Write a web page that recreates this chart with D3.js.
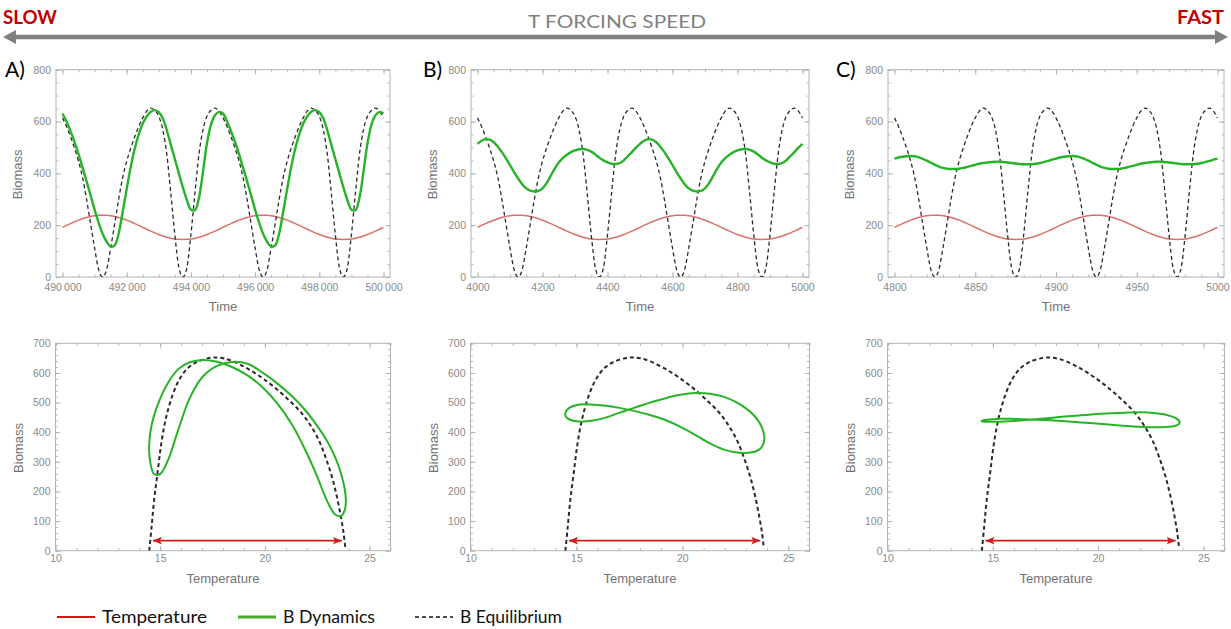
<!DOCTYPE html>
<html>
<head>
<meta charset="utf-8">
<script src="https://cdn.jsdelivr.net/npm/d3@7"></script>
<style>
  html, body { margin: 0; padding: 0; background: #ffffff; }
  svg { display: block; }
</style>
</head>
<body>
<svg id="chart" width="1231" height="629"></svg>
<script>
// ---------------------------------------------------------------
// Data: three runs of the same periodic temperature forcing, each
// shown over a window of two forcing cycles (81 evenly spaced samples).
// ---------------------------------------------------------------

// Time windows of the three runs (slow, intermediate, fast forcing)
const windowA = [490000, 500000];
const windowB = [4000, 5000];
const windowC = [4800, 5000];

// Temperature (°C) at each sample; same cycle shape in every window
const temperature = [
  19.17, 19.91, 20.62, 21.30, 21.93, 22.49, 22.97, 23.36, 23.64, 23.81,
  23.87, 23.81, 23.64, 23.36, 22.97, 22.49, 21.93, 21.30, 20.62, 19.91,
  19.17, 18.43, 17.72, 17.04, 16.41, 15.85, 15.37, 14.98, 14.70, 14.53,
  14.47, 14.53, 14.70, 14.98, 15.37, 15.85, 16.41, 17.04, 17.72, 18.43,
  19.17, 19.91, 20.62, 21.30, 21.93, 22.49, 22.97, 23.36, 23.64, 23.81,
  23.87, 23.81, 23.64, 23.36, 22.97, 22.49, 21.93, 21.30, 20.62, 19.91,
  19.17, 18.43, 17.72, 17.04, 16.41, 15.85, 15.37, 14.98, 14.70, 14.53,
  14.47, 14.53, 14.70, 14.98, 15.37, 15.85, 16.41, 17.04, 17.72, 18.43,
  19.17
];

// Equilibrium biomass B* at each sample
const equilibrium = [
  614, 581, 541, 497, 447, 384, 300, 205, 112, 29,
  0, 29, 112, 205, 300, 384, 447, 497, 541, 581,
  614, 640, 652, 643, 620, 568, 473, 323, 163, 36,
  0, 36, 163, 323, 473, 568, 620, 643, 652, 640,
  614, 581, 541, 497, 447, 384, 300, 205, 112, 29,
  0, 29, 112, 205, 300, 384, 447, 497, 541, 581,
  614, 640, 652, 643, 620, 568, 473, 323, 163, 36,
  0, 36, 163, 323, 473, 568, 620, 643, 652, 640,
  614
];

// Simulated biomass B(t), slow forcing
const dynamicsA = [
  631, 600, 563, 521, 474, 422, 370, 315, 260, 210,
  167, 136, 117, 122, 168, 252, 340, 425, 495, 550,
  592, 620, 638, 644, 636, 612, 566, 510, 455, 400,
  346, 297, 260, 258, 305, 405, 515, 588, 624, 637,
  631, 600, 563, 521, 474, 422, 370, 315, 260, 210,
  167, 136, 117, 122, 168, 252, 340, 425, 495, 550,
  592, 620, 638, 644, 636, 612, 566, 510, 455, 400,
  346, 297, 260, 258, 305, 405, 515, 588, 624, 637,
  631
];

// Simulated biomass B(t), intermediate forcing
const dynamicsB = [
  514, 526, 532, 530, 520, 503, 482, 458, 432, 405,
  380, 358, 342, 333, 330, 332, 342, 362, 390, 418,
  442, 459, 472, 482, 489, 493, 494, 491, 484, 473,
  460, 450, 442, 437, 436, 440, 450, 466, 482, 499,
  514, 526, 532, 530, 520, 503, 482, 458, 432, 405,
  380, 358, 342, 333, 330, 332, 342, 362, 390, 418,
  442, 459, 472, 482, 489, 493, 494, 491, 484, 473,
  460, 450, 442, 437, 436, 440, 450, 466, 482, 499,
  514
];

// Simulated biomass B(t), fast forcing
const dynamicsC = [
  457, 461, 464, 466, 467, 466, 462, 456, 449, 441,
  433, 426, 421, 418, 417, 417, 418, 421, 425, 429,
  433, 437, 440, 442, 444, 445, 445, 444, 442, 440,
  438, 436, 435, 435, 435, 437, 440, 444, 448, 453,
  457, 461, 464, 466, 467, 466, 462, 456, 449, 441,
  433, 426, 421, 418, 417, 417, 418, 421, 425, 429,
  433, 437, 440, 442, 444, 445, 445, 444, 442, 440,
  438, 436, 435, 435, 435, 437, 440, 444, 448, 453,
  457
];

// Equilibrium curve B*(T) for the phase-plane panels
const eqCurveT = [14.48, 14.59, 14.71, 14.87, 15.03, 15.19, 15.35, 15.59, 15.90, 16.30,
                  16.78, 17.41, 17.70, 18.05, 18.52, 19.16, 19.79, 20.43, 21.06, 21.70,
                  22.17, 22.57, 22.89, 23.20, 23.44, 23.63, 23.76, 23.84];
const eqCurveB = [0, 81, 171, 261, 351, 419, 469, 525, 576, 615,
                  638, 651, 652, 649, 638, 615, 587, 553, 514, 469,
                  424, 374, 317, 250, 182, 115, 59, 11];

// Temperature range of the forcing (red double arrow) and its height
const forcingRangeT = [14.65, 23.68];
const forcingArrowB = 34;

// Tick values
const timeTicksA = [490000, 492000, 494000, 496000, 498000, 500000];
const timeTicksB = [4000, 4200, 4400, 4600, 4800, 5000];
const timeTicksC = [4800, 4850, 4900, 4950, 5000];
const biomassTicksTop = [0, 200, 400, 600, 800];
const biomassTicksBottom = [0, 100, 200, 300, 400, 500, 600, 700];
const temperatureTicks = [10, 15, 20, 25];

// Text
const panelLetters = ["A)", "B)", "C)"];
const legendLabels = ["Temperature", "B Dynamics", "B Equilibrium"];

// ---------------------------------------------------------------
// Drawing
// ---------------------------------------------------------------
const svg = d3.select("#chart");

const C_GREEN = "#27b327";
const C_TEMP = "#d9706f";
const C_DASH = "#2a2a2a";
const C_ARROW = "#cf1d1d";
const C_FRAME = "#b4b4b4";
const C_TICKTXT = "#8a8a8a";
const C_TITLE = "#737373";
const TICK_FONT = "'Liberation Sans', Arial, sans-serif";
const TEXT_FONT = "Lato, 'Open Sans', sans-serif";

const spaced = d3.formatLocale({decimal: ".", thousands: "\u2009", grouping: [3], currency: ["", ""]}).format(",");

const runs = [
  {win: windowA, ticks: timeTicksA, minorStep: 500, fmt: spaced, dyn: dynamicsA, left: 56, width: 334},
  {win: windowB, ticks: timeTicksB, minorStep: 50, fmt: d3.format("d"), dyn: dynamicsB, left: 471, width: 338},
  {win: windowC, ticks: timeTicksC, minorStep: 10, fmt: d3.format("d"), dyn: dynamicsC, left: 888, width: 336}
];

const TOP = {y0: 69.7, y1: 277};
const BOT = {y0: 343.3, y1: 550.7};
const PAD = 6.5;

// arrow markers for the forcing range
const defs = svg.append("defs");
["fStart", "fEnd"].forEach((id, i) => {
  defs.append("marker")
    .attr("id", id)
    .attr("viewBox", "0 -5 10 10")
    .attr("refX", 10).attr("refY", 0)
    .attr("markerUnits", "userSpaceOnUse")
    .attr("markerWidth", 9).attr("markerHeight", 9)
    .attr("orient", i === 0 ? "auto-start-reverse" : "auto")
    .append("path")
    .attr("d", "M0,-4.2L10,0L0,4.2L2.2,0Z")
    .attr("fill", C_ARROW);
});

function drawFrame(g, x, y, box, xTicks, xMinor, yTicks, yMinor, xFmt, xPad) {
  const hide = s => s.select(".domain").remove();
  const tickStyle = s => s.selectAll(".tick line").attr("stroke", "#a8a8a8").attr("stroke-width", 0.8);
  const txtStyle = s => s.selectAll(".tick text").attr("fill", C_TICKTXT)
    .attr("font-family", TICK_FONT).attr("font-size", 10.5);

  // bottom
  g.append("g").attr("transform", `translate(0,${box.y1})`)
    .call(d3.axisBottom(x).tickValues(xMinor).tickSize(-2.5).tickFormat(""))
    .call(hide).call(tickStyle);
  g.append("g").attr("transform", `translate(0,${box.y1})`)
    .call(d3.axisBottom(x).tickValues(xTicks).tickSize(-5).tickPadding(xPad).tickFormat(xFmt))
    .call(hide).call(tickStyle).call(txtStyle);
  // top
  g.append("g").attr("transform", `translate(0,${box.y0})`)
    .call(d3.axisTop(x).tickValues(xMinor).tickSize(-2.5).tickFormat(""))
    .call(hide).call(tickStyle);
  g.append("g").attr("transform", `translate(0,${box.y0})`)
    .call(d3.axisTop(x).tickValues(xTicks).tickSize(-5).tickFormat(""))
    .call(hide).call(tickStyle);
  // left
  g.append("g").attr("transform", `translate(${box.x0},0)`)
    .call(d3.axisLeft(y).tickValues(yMinor).tickSize(-2.5).tickFormat(""))
    .call(hide).call(tickStyle);
  g.append("g").attr("transform", `translate(${box.x0},0)`)
    .call(d3.axisLeft(y).tickValues(yTicks).tickSize(-5).tickPadding(5).tickFormat(d3.format("d")))
    .call(hide).call(tickStyle).call(txtStyle);
  // right
  g.append("g").attr("transform", `translate(${box.x1},0)`)
    .call(d3.axisRight(y).tickValues(yMinor).tickSize(-2.5).tickFormat(""))
    .call(hide).call(tickStyle);
  g.append("g").attr("transform", `translate(${box.x1},0)`)
    .call(d3.axisRight(y).tickValues(yTicks).tickSize(-5).tickFormat(""))
    .call(hide).call(tickStyle);

  g.append("rect")
    .attr("x", box.x0).attr("y", box.y0)
    .attr("width", box.x1 - box.x0).attr("height", box.y1 - box.y0)
    .attr("fill", "none").attr("stroke", C_FRAME).attr("stroke-width", 1);
}

function axisTitle(g, text, x, y, rotate) {
  g.append("text")
    .attr("transform", `translate(${x},${y})` + (rotate ? " rotate(-90)" : ""))
    .attr("text-anchor", "middle")
    .attr("font-family", TICK_FONT).attr("font-size", 13)
    .attr("fill", C_TITLE)
    .text(text);
}

runs.forEach((run, ci) => {
  const g = svg.append("g");
  const box = {x0: run.left, x1: run.left + run.width, y0: TOP.y0, y1: TOP.y1};

  // ---- time series panel ----
  const x = d3.scaleLinear().domain(run.win).range([box.x0 + PAD, box.x1 - PAD]);
  const y = d3.scaleLinear().domain([0, 800]).range([box.y1, box.y0]);
  const yTemp = d3.scaleLinear().domain([0, 80]).range([box.y1, box.y0]);
  const times = d3.range(temperature.length).map(i => run.win[0] + (run.win[1] - run.win[0]) * i / (temperature.length - 1));
  const idx = d3.range(temperature.length);

  const xMinor = d3.range(run.win[0], run.win[1] + 1e-6, run.minorStep);
  drawFrame(g, x, y, box, run.ticks, xMinor, biomassTicksTop, d3.range(0, 801, 50), run.fmt, 6.5);

  const clipId = "clipTop" + ci;
  defs.append("clipPath").attr("id", clipId).append("rect")
    .attr("x", box.x0).attr("y", box.y0 - 2).attr("width", box.x1 - box.x0).attr("height", box.y1 - box.y0 + 2);
  const plot = g.append("g").attr("clip-path", `url(#${clipId})`);

  plot.append("path")
    .attr("d", d3.line().x(i => x(times[i])).y(i => yTemp(temperature[i])).curve(d3.curveCatmullRom)(idx))
    .attr("fill", "none").attr("stroke", C_TEMP).attr("stroke-width", 1.5);
  plot.append("path")
    .attr("d", d3.line().x(i => x(times[i])).y(i => y(equilibrium[i])).curve(d3.curveMonotoneX)(idx))
    .attr("fill", "none").attr("stroke", C_DASH).attr("stroke-width", 1.3)
    .attr("stroke-dasharray", "4,3");
  plot.append("path")
    .attr("d", d3.line().x(i => x(times[i])).y(i => y(run.dyn[i])).curve(d3.curveCatmullRom)(idx))
    .attr("fill", "none").attr("stroke", C_GREEN).attr("stroke-width", 2.4);

  axisTitle(g, "Biomass", box.x0 - 34, (box.y0 + box.y1) / 2 + 1, true);
  axisTitle(g, "Time", (box.x0 + box.x1) / 2, 311, false);

  g.append("text")
    .attr("x", [5, 423, 836][ci]).attr("y", 77)
    .attr("font-family", TEXT_FONT).attr("font-size", 21)
    .attr("fill", "#000").text(panelLetters[ci]);

  // ---- phase plane panel ----
  const pbox = {x0: run.left - 0.5, x1: run.left + run.width + 0.5, y0: BOT.y0, y1: BOT.y1};
  const xT = d3.scaleLinear().domain([10, 26]).range([pbox.x0, pbox.x1]);
  const yB = d3.scaleLinear().domain([0, 700]).range([pbox.y1, pbox.y0]);
  const pg = svg.append("g");
  drawFrame(pg, xT, yB, pbox, temperatureTicks, d3.range(10, 26.001, 1), biomassTicksBottom, d3.range(0, 701, 20), d3.format("d"), 4);

  pg.append("path")
    .attr("d", d3.line().x((d, i) => xT(eqCurveT[i])).y((d, i) => yB(eqCurveB[i])).curve(d3.curveCatmullRom)(eqCurveT))
    .attr("fill", "none").attr("stroke", C_DASH).attr("stroke-width", 2)
    .attr("stroke-dasharray", "4,3");

  const loop = d3.range(40); // one forcing cycle, closed
  pg.append("path")
    .attr("d", d3.line().x(i => xT(temperature[i])).y(i => yB(run.dyn[i])).curve(d3.curveCatmullRomClosed)(loop))
    .attr("fill", "none").attr("stroke", C_GREEN).attr("stroke-width", 2);

  pg.append("line")
    .attr("x1", xT(forcingRangeT[0])).attr("x2", xT(forcingRangeT[1]))
    .attr("y1", yB(forcingArrowB)).attr("y2", yB(forcingArrowB))
    .attr("stroke", C_ARROW).attr("stroke-width", 1.6)
    .attr("marker-start", "url(#fStart)").attr("marker-end", "url(#fEnd)");

  axisTitle(pg, "Biomass", pbox.x0 - 33, (pbox.y0 + pbox.y1) / 2 + 1, true);
  axisTitle(pg, "Temperature", (pbox.x0 + pbox.x1) / 2, 583, false);
});

// ---- header: forcing speed arrow ----
const head = svg.append("g");
head.append("line").attr("x1", 12).attr("x2", 1219).attr("y1", 37).attr("y2", 37)
  .attr("stroke", "#808080").attr("stroke-width", 4.5);
head.append("path").attr("d", "M3,37 L16,30 L16,44 Z").attr("fill", "#808080");
head.append("path").attr("d", "M1228,37 L1215,30 L1215,44 Z").attr("fill", "#808080");
head.append("text").attr("x", 3).attr("y", 24)
  .attr("font-family", TEXT_FONT).attr("font-weight", 700).attr("font-size", 19)
  .attr("fill", "#c00000").attr("textLength", 54).attr("lengthAdjust", "spacingAndGlyphs").text("SLOW");
head.append("text").attr("x", 1224).attr("y", 24).attr("text-anchor", "end")
  .attr("font-family", TEXT_FONT).attr("font-weight", 700).attr("font-size", 19)
  .attr("fill", "#c00000").attr("textLength", 47).attr("lengthAdjust", "spacingAndGlyphs").text("FAST");
head.append("text").attr("x", 617).attr("y", 28).attr("text-anchor", "middle")
  .attr("font-family", TEXT_FONT).attr("font-size", 17)
  .attr("fill", "#7f7f7f").attr("textLength", 178).attr("lengthAdjust", "spacingAndGlyphs").text("T FORCING SPEED");

// ---- legend ----
const leg = svg.append("g");
const legY = 617;
const legItems = [
  {x: 57, color: "#e01010", dash: null, w: 2, text: legendLabels[0], tl: 105},
  {x: 238, color: "#4aab2a", dash: null, w: 3, text: legendLabels[1], tl: 92},
  {x: 415, color: "#111", dash: "4,3", w: 1.4, text: legendLabels[2], tl: 102}
];
legItems.forEach(it => {
  leg.append("line").attr("x1", it.x).attr("x2", it.x + 38).attr("y1", legY).attr("y2", legY)
    .attr("stroke", it.color).attr("stroke-width", it.w).attr("stroke-dasharray", it.dash);
  leg.append("text").attr("x", it.x + 45).attr("y", legY + 6)
    .attr("font-family", TEXT_FONT).attr("font-size", 17).attr("fill", "#111")
    .attr("textLength", it.tl).attr("lengthAdjust", "spacingAndGlyphs").text(it.text);
});
</script>
</body>
</html>
